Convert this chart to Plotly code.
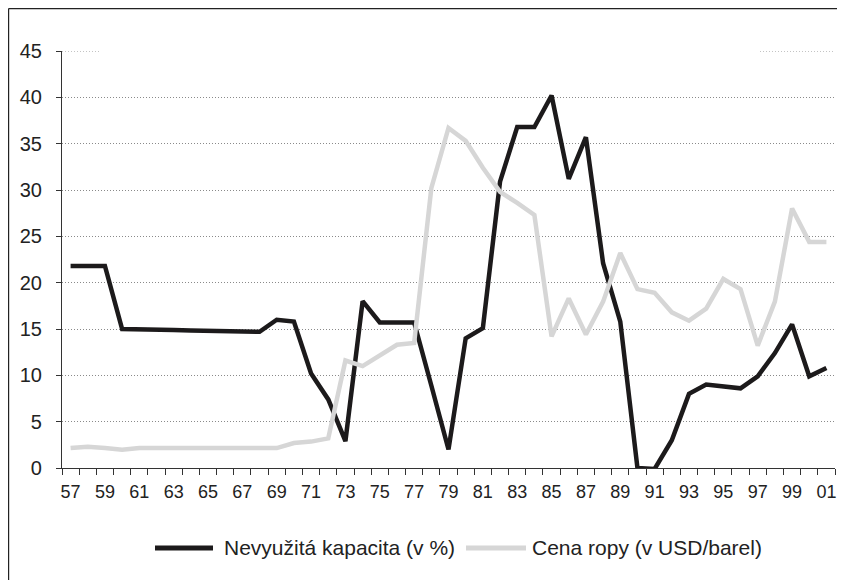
import plotly.graph_objects as go

years = list(range(1957, 2002))
capacity = [21.8, 21.8, 21.8, 15.0, 15.0, 14.95, 14.9, 14.85, 14.8, 14.75, 14.7, 14.7,
            16.0, 15.8, 10.2, 7.4, 2.9, 18.0, 15.7, 15.7, 15.7, 8.9, 2.0, 14.0, 15.1,
            30.9, 36.8, 36.8, 40.2, 31.2, 35.7, 22.1, 15.8, 0.0, -0.1, 3.0, 8.0, 9.0,
            8.8, 8.6, 9.9, 12.4, 15.5, 9.9, 10.8]
oil_price = [2.15, 2.3, 2.15, 1.97, 2.15, 2.15, 2.15, 2.15, 2.15, 2.15, 2.15, 2.15,
             2.15, 2.7, 2.85, 3.2, 11.6, 11.0, 12.2, 13.3, 13.5, 30.2, 36.7, 35.3, 32.4,
             29.8, 28.6, 27.3, 14.2, 18.3, 14.4, 17.95, 23.2, 19.3, 18.9, 16.8, 15.9,
             17.2, 20.4, 19.3, 13.2, 17.95, 28.0, 24.4, 24.4]
series_names = ["Nevyužitá kapacita (v %)", "Cena ropy (v USD/barel)"]
tick_years = list(range(1957, 2002, 2))
tick_labels = [str(y)[-2:] for y in tick_years]
y_ticks = list(range(0, 46, 5))

FONT = "Liberation Sans, Arial, sans-serif"
BLACK = "#1c1a1b"
GREY = "#d6d6d6"
GRID = "#8a8a8a"
DOT = "1px,2px"

# page body has an 8px margin: positions below are page pixels minus 8
OFF = 8
L, T, W, H = 62 - OFF, 51 - OFF, 773, 417
FW, FH = 845 - OFF, 580 - OFF

def px(x):
    return (x - OFF - L) / W

def py(y):
    return (T + H - (y - OFF)) / H

def fx(x):  # figure pixel -> paper
    return (x - L) / W

def fy(y):
    return (T + H - y) / H

fig = go.Figure()
fig.add_trace(go.Scatter(x=years, y=capacity, mode="lines", name=series_names[0],
                         line=dict(color=BLACK, width=4.5), showlegend=False))
fig.add_trace(go.Scatter(x=years, y=oil_price, mode="lines", name=series_names[1],
                         line=dict(color=GREY, width=4.5), showlegend=False))

shapes = [
    # partial top gridline at 45
    dict(type="line", xref="paper", yref="y", x0=0, x1=px(101), y0=45, y1=45,
         line=dict(color=GRID, width=1, dash=DOT)),
    dict(type="line", xref="paper", yref="y", x0=px(760), x1=1, y0=45, y1=45,
         line=dict(color=GRID, width=1, dash=DOT)),
    # frame
    dict(type="line", xref="paper", yref="paper", x0=fx(0.6), x1=fx(0.6), y0=fy(0.6), y1=fy(FH + 50),
         line=dict(color="#222", width=1.2)),
    dict(type="line", xref="paper", yref="paper", x0=fx(0.6), x1=fx(FW + 50), y0=fy(0.6), y1=fy(0.6),
         line=dict(color="#222", width=1.2)),
    # legend swatches
    dict(type="line", xref="paper", yref="paper", x0=px(155), x1=px(213), y0=py(548), y1=py(548),
         line=dict(color=BLACK, width=5)),
    dict(type="line", xref="paper", yref="paper", x0=px(466), x1=px(526), y0=py(548), y1=py(548),
         line=dict(color=GREY, width=5)),
]

annotations = [
    dict(xref="paper", yref="paper", x=px(222), y=py(547), xanchor="left", yanchor="middle",
         text=series_names[0], showarrow=False, font=dict(family=FONT, size=21, color="#222")),
    dict(xref="paper", yref="paper", x=px(530), y=py(547), xanchor="left", yanchor="middle",
         text=series_names[1], showarrow=False, font=dict(family=FONT, size=21, color="#222")),
]

fig.update_layout(
    width=FW, height=FH,
    margin=dict(l=L, r=FW - L - W, t=T, b=FH - T - H, autoexpand=False),
    paper_bgcolor="white", plot_bgcolor="white",
    font=dict(family=FONT, size=19, color="#222"),
    showlegend=False,
    shapes=shapes,
    annotations=annotations,
    xaxis=dict(range=[1956.5, 2001.5], tickmode="array", tickvals=tick_years, ticktext=tick_labels,
               ticks="outside", ticklen=7, tickcolor="rgba(0,0,0,0)",
               showgrid=False, zeroline=False, showline=True, linecolor="#333", linewidth=1.2,
               tickfont=dict(family=FONT, size=18, color="#222"),
               minor=dict(tickmode="linear", tick0=1956.5, dtick=1, ticks="outside", ticklen=6,
                          tickcolor="#333", tickwidth=1, showgrid=False)),
    yaxis=dict(range=[0, 45], tickmode="array", tickvals=y_ticks,
               ticks="outside", ticklen=5, tickcolor="#333", tickwidth=1,
               ticklabelstandoff=10,
               showgrid=True, gridcolor=GRID, griddash=DOT, gridwidth=1,
               zeroline=False, showline=True, linecolor="#333", linewidth=1.2,
               tickfont=dict(family=FONT, size=20, color="#222")),
)

fig.write_html("out.html")
